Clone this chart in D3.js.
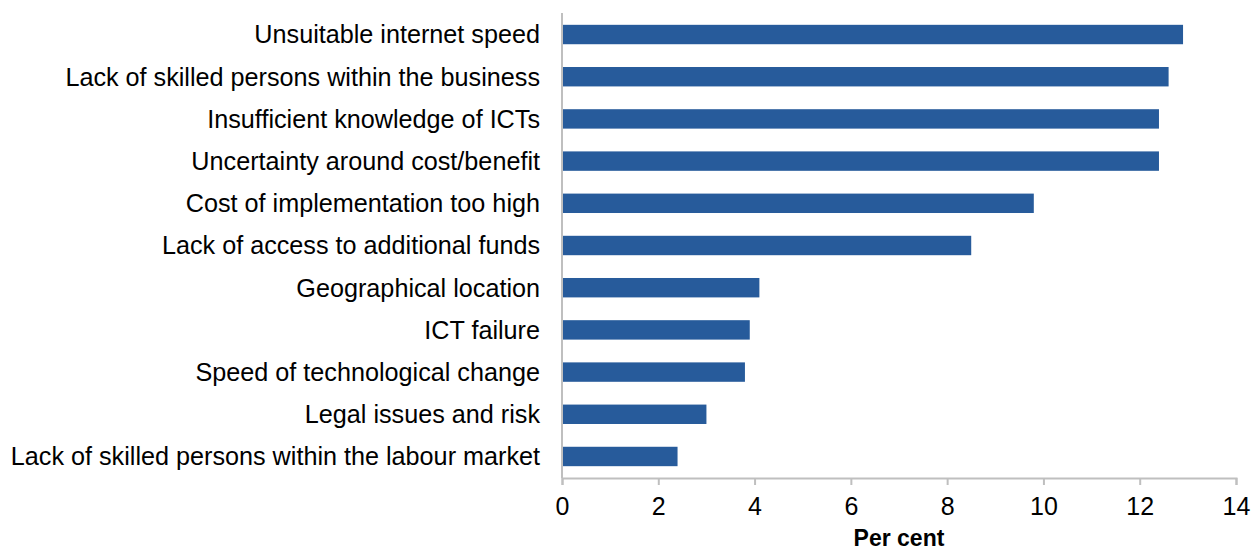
<!DOCTYPE html>
<html>
<head>
<meta charset="utf-8">
<script src="https://cdn.jsdelivr.net/npm/d3@7"></script>
<style>
  body { margin: 0; background: #fff; }
  text { font-family: "Liberation Sans", Arial, sans-serif; fill: #000; }
</style>
</head>
<body>
<svg id="chart" width="1260" height="552"></svg>
<script>
// categories, top to bottom
var categories = [
  "Unsuitable internet speed",
  "Lack of skilled persons within the business",
  "Insufficient knowledge of ICTs",
  "Uncertainty around cost/benefit",
  "Cost of implementation too high",
  "Lack of access to additional funds",
  "Geographical location",
  "ICT failure ",
  "Speed of technological change",
  "Legal issues and risk",
  "Lack of skilled persons within the labour market"
];
var values = [12.9, 12.6, 12.4, 12.4, 9.8, 8.5, 4.1, 3.9, 3.8, 3.0, 2.4];
var xTicks = [0, 2, 4, 6, 8, 10, 12, 14];
var xTitle = "Per cent";

var margin = { top: 13, right: 24, bottom: 74, left: 562 },
    width = 1260 - margin.left - margin.right,
    height = 552 - margin.top - margin.bottom;

var svg = d3.select("#chart")
  .append("g")
  .attr("transform", "translate(" + margin.left + "," + margin.top + ")");

var x = d3.scaleLinear().domain([0, 14]).range([0, width]);
var y = d3.scaleBand().domain(categories).range([0, height]).paddingInner(0.54).paddingOuter(0.28);

// bars
svg.selectAll(".bar")
  .data(values)
  .enter()
  .append("rect")
  .attr("class", "bar")
  .attr("x", x(0))
  .attr("y", function(d, i) { return y(categories[i]); })
  .attr("width", function(d) { return x(d) - x(0); })
  .attr("height", y.bandwidth())
  .attr("fill", "#275b9b");

// x axis
var xAxis = d3.axisBottom(x).tickValues(xTicks).tickSize(7).tickPadding(12).tickFormat(d3.format("d"));
var gx = svg.append("g")
  .attr("transform", "translate(0," + height + ")")
  .call(xAxis);
gx.select(".domain").attr("stroke", "#bfbfbf").attr("stroke-width", 2);
gx.selectAll(".tick line").attr("stroke", "#bfbfbf").attr("stroke-width", 2);
gx.selectAll(".tick text").style("font-size", "25px").attr("fill", "#000");

// y axis line
svg.append("line")
  .attr("x1", x(0)).attr("x2", x(0))
  .attr("y1", 0).attr("y2", height)
  .attr("stroke", "#bfbfbf").attr("stroke-width", 2);

// category labels
svg.selectAll(".cat")
  .data(categories)
  .enter()
  .append("text")
  .attr("class", "cat")
  .attr("x", -22)
  .attr("y", function(d) { return y(d) + y.bandwidth() / 2; })
  .attr("dy", "0.35em")
  .attr("text-anchor", "end")
  .style("font-size", "25.2px")
  .text(function(d) { return d; });

// x title
svg.append("text")
  .attr("x", width / 2)
  .attr("y", height + 68)
  .attr("text-anchor", "middle")
  .style("font-size", "23px")
  .style("font-weight", "bold")
  .text(xTitle);
</script>
</body>
</html>
